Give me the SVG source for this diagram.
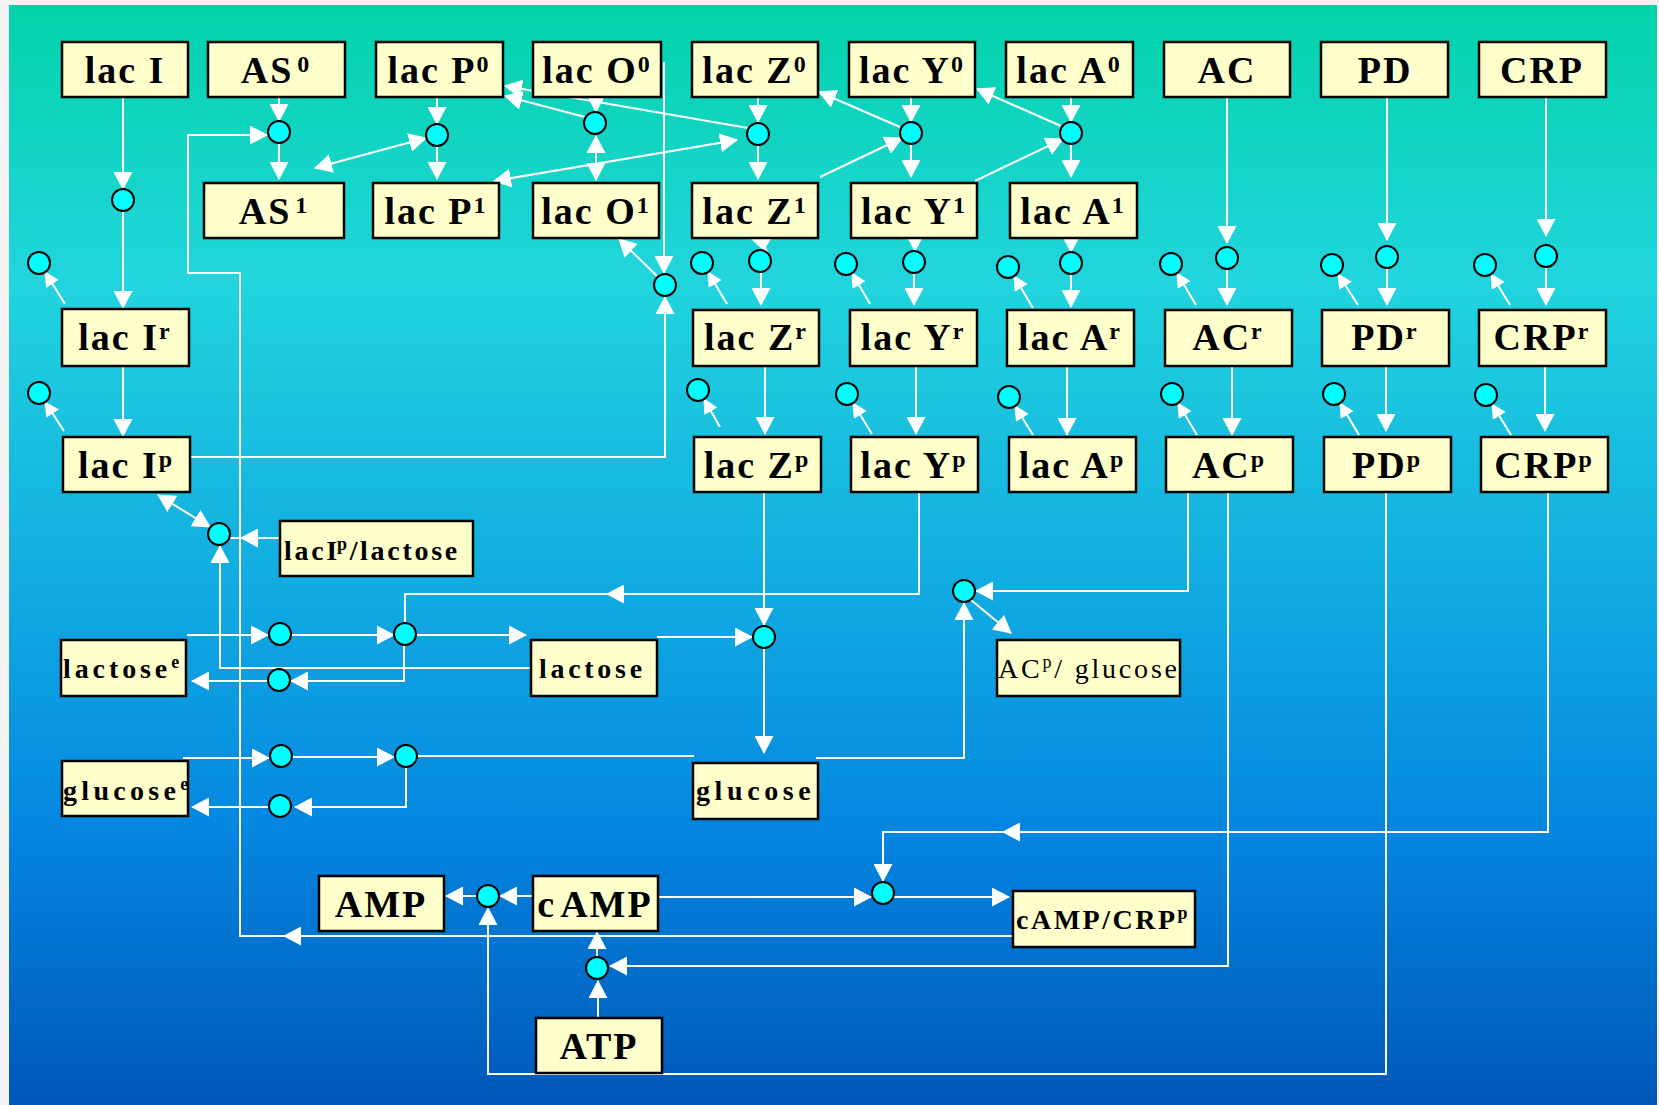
<svg xmlns="http://www.w3.org/2000/svg" width="1659" height="1105" viewBox="0 0 1659 1105">
<defs>
<linearGradient id="bg" x1="0" y1="5" x2="0" y2="1105" gradientUnits="userSpaceOnUse">
<stop offset="0" stop-color="#03D3A9"/>
<stop offset="0.25" stop-color="#21D5DD"/>
<stop offset="0.55" stop-color="#10A8E1"/>
<stop offset="0.75" stop-color="#0486E0"/>
<stop offset="1" stop-color="#0057B8"/>
</linearGradient>
<marker id="ah" viewBox="0 0 18 19" refX="17" refY="9.5" markerWidth="18" markerHeight="19" markerUnits="userSpaceOnUse" orient="auto-start-reverse"><path d="M0,0 L18,9.5 L0,19 z" fill="#fff"/></marker>
<marker id="as" viewBox="0 0 15 15" refX="14" refY="7.5" markerWidth="15" markerHeight="15" markerUnits="userSpaceOnUse" orient="auto-start-reverse"><path d="M0,0 L15,7.5 L0,15 z" fill="#fff"/></marker>
<style>
.box{fill:#FFFFCC;stroke:#000;stroke-width:2.5}
.c{fill:#00FFFF;stroke:#000;stroke-width:2}
.ln{stroke:#fff;stroke-width:2;fill:none}
.a{marker-end:url(#ah)}
.d{marker-start:url(#ah);marker-end:url(#ah)}
.s{marker-end:url(#as)}
.t{font-family:"Liberation Serif","Times New Roman",serif;font-weight:bold;font-size:38px;letter-spacing:2px;fill:#000;text-anchor:middle}
.ts{font-family:"Liberation Serif","Times New Roman",serif;font-weight:bold;font-size:28px;fill:#000}
.tr{font-family:"Liberation Serif","Times New Roman",serif;font-weight:normal;font-size:28px;fill:#000}
.sup{font-size:24px}
.sup2{font-size:18px}
</style>
</defs>
<rect x="0" y="0" width="1659" height="1105" fill="#F2F2F2"/>
<rect x="9" y="5" width="1648" height="1100" fill="url(#bg)"/>

<g id="connectors">
<line class="ln a" x1="123" y1="97" x2="123" y2="189"/>
<line class="ln a" x1="123" y1="211" x2="123" y2="308"/>
<line class="ln a" x1="123" y1="366" x2="123" y2="436"/>
<line class="ln s" x1="65" y1="304" x2="45" y2="272"/>
<line class="ln s" x1="64" y1="431" x2="45" y2="402"/>
<line class="ln a" x1="279" y1="97" x2="279" y2="121"/>
<line class="ln a" x1="279" y1="143" x2="279" y2="179"/>
<line class="ln a" x1="437" y1="97" x2="437" y2="124"/>
<line class="ln a" x1="437" y1="146" x2="437" y2="179"/>
<line class="ln a" x1="596" y1="97" x2="596" y2="112"/>
<line class="ln d" x1="596" y1="136" x2="596" y2="180"/>
<line class="ln a" x1="585" y1="117" x2="505" y2="96"/>
<line class="ln a" x1="748" y1="128" x2="505" y2="86"/>
<line class="ln d" x1="494" y1="181" x2="737" y2="140"/>
<line class="ln d" x1="315" y1="168" x2="426" y2="138"/>
<line class="ln a" x1="758" y1="97" x2="758" y2="122"/>
<line class="ln a" x1="758" y1="145" x2="758" y2="179"/>
<line class="ln a" x1="911" y1="97" x2="911" y2="122"/>
<line class="ln a" x1="911" y1="144" x2="911" y2="177"/>
<line class="ln a" x1="1071" y1="97" x2="1071" y2="122"/>
<line class="ln a" x1="1071" y1="144" x2="1071" y2="177"/>
<line class="ln a" x1="900" y1="127" x2="819" y2="92"/>
<line class="ln a" x1="1061" y1="126" x2="977" y2="89"/>
<line class="ln a" x1="820" y1="177" x2="902" y2="138"/>
<line class="ln a" x1="975" y1="181" x2="1063" y2="139"/>
<polygon points="751,239 771,239 766,247 770,256" fill="#fff"/>
<line class="ln a" x1="915" y1="238" x2="915" y2="251"/>
<line class="ln a" x1="1071" y1="238" x2="1071" y2="252"/>
<line class="ln a" x1="761" y1="272" x2="761" y2="305"/>
<line class="ln a" x1="914" y1="273" x2="914" y2="305"/>
<line class="ln a" x1="1071" y1="274" x2="1071" y2="307"/>
<line class="ln a" x1="765" y1="366" x2="765" y2="434"/>
<line class="ln a" x1="916" y1="366" x2="916" y2="434"/>
<line class="ln a" x1="1067" y1="366" x2="1067" y2="435"/>
<line class="ln s" x1="727" y1="304" x2="708" y2="272"/>
<line class="ln s" x1="870" y1="304" x2="852" y2="273"/>
<line class="ln s" x1="1033" y1="308" x2="1014" y2="276"/>
<line class="ln s" x1="720" y1="427" x2="704" y2="399"/>
<line class="ln s" x1="872" y1="434" x2="853" y2="403"/>
<line class="ln s" x1="1033" y1="435" x2="1015" y2="406"/>
<line class="ln s" x1="1196" y1="305" x2="1177" y2="273"/>
<line class="ln s" x1="1197" y1="435" x2="1178" y2="403"/>
<line class="ln s" x1="1358" y1="305" x2="1338" y2="274"/>
<line class="ln s" x1="1359" y1="435" x2="1340" y2="403"/>
<line class="ln s" x1="1510" y1="305" x2="1491" y2="274"/>
<line class="ln s" x1="1511" y1="435" x2="1492" y2="404"/>
<line class="ln a" x1="1227" y1="97" x2="1227" y2="243"/>
<line class="ln a" x1="1227" y1="269" x2="1227" y2="305"/>
<line class="ln a" x1="1232" y1="366" x2="1232" y2="435"/>
<line class="ln a" x1="1387" y1="97" x2="1387" y2="240"/>
<line class="ln a" x1="1387" y1="268" x2="1387" y2="305"/>
<line class="ln a" x1="1386" y1="366" x2="1386" y2="431"/>
<line class="ln a" x1="1546" y1="97" x2="1546" y2="236"/>
<line class="ln a" x1="1546" y1="267" x2="1546" y2="305"/>
<line class="ln a" x1="1545" y1="366" x2="1545" y2="431"/>
<line class="ln a" x1="664" y1="62" x2="664" y2="273"/>
<polyline class="ln a" points="190,457 665,457 665,297"/>
<line class="ln a" x1="658" y1="277" x2="619" y2="239"/>
<polyline class="ln a" points="1013,936 240,936 240,273 188,273 188,135 267,135"/>
<line class="ln a" x1="310" y1="936" x2="284" y2="936"/>
<line class="ln d" x1="158" y1="495" x2="210" y2="527"/>
<line class="ln" x1="241" y1="538" x2="230" y2="538"/>
<line class="ln a" x1="280" y1="538" x2="241" y2="538"/>
<polyline class="ln a" points="531,668 220,668 220,546"/>
<line class="ln a" x1="187" y1="635" x2="268" y2="635"/>
<line class="ln a" x1="291" y1="635" x2="394" y2="635"/>
<line class="ln a" x1="416" y1="635" x2="526" y2="635"/>
<polyline class="ln a" points="404,645 404,681 291,681"/>
<line class="ln a" x1="268" y1="681" x2="192" y2="681"/>
<polyline class="ln" points="919,492 919,594 405,594 405,623"/>
<line class="ln a" x1="640" y1="594" x2="607" y2="594"/>
<line class="ln a" x1="764" y1="492" x2="764" y2="625"/>
<line class="ln a" x1="657" y1="637" x2="752" y2="637"/>
<line class="ln a" x1="764" y1="648" x2="764" y2="753"/>
<line class="ln a" x1="183" y1="758" x2="269" y2="758"/>
<line class="ln a" x1="292" y1="757" x2="394" y2="757"/>
<line class="ln" x1="417" y1="756" x2="694" y2="756"/>
<polyline class="ln a" points="406,767 406,807 295,807"/>
<line class="ln a" x1="269" y1="807" x2="192" y2="807"/>
<polyline class="ln a" points="816,758 964,758 964,603"/>
<polyline class="ln a" points="1188,492 1188,591 976,591"/>
<line class="ln a" x1="971" y1="600" x2="1011" y2="633"/>
<line class="ln a" x1="533" y1="896" x2="500" y2="896"/>
<line class="ln a" x1="476" y1="896" x2="446" y2="896"/>
<line class="ln a" x1="658" y1="897" x2="871" y2="897"/>
<line class="ln a" x1="894" y1="897" x2="1009" y2="897"/>
<polyline class="ln a" points="1548,492 1548,832 883,832 883,881"/>
<line class="ln a" x1="1030" y1="832" x2="1003" y2="832"/>
<line class="ln a" x1="598" y1="1018" x2="598" y2="981"/>
<line class="ln a" x1="597" y1="957" x2="597" y2="932"/>
<polyline class="ln a" points="1228,492 1228,966 610,966"/>
<polyline class="ln a" points="1386,492 1386,1074 488,1074 488,908"/>
</g>

<g id="nodes">
<g id="lacI"><rect class="box" x="62" y="42" width="126" height="55"/><text class="t" x="125" y="83">lac I</text></g>
<g id="AS0"><rect class="box" x="208" y="42" width="137" height="55"/><text class="t" x="276" y="83">AS<tspan class="sup" dx="4" dy="-11">0</tspan></text></g>
<g id="lacP0"><rect class="box" x="376" y="42" width="127" height="55"/><text class="t" x="439" y="83">lac P<tspan class="sup" dy="-11">0</tspan></text></g>
<g id="lacO0"><rect class="box" x="533" y="42" width="128" height="55"/><text class="t" x="597" y="83">lac O<tspan class="sup" dy="-11">0</tspan></text></g>
<g id="lacZ0"><rect class="box" x="692" y="42" width="126" height="55"/><text class="t" x="755" y="83">lac Z<tspan class="sup" dy="-11">0</tspan></text></g>
<g id="lacY0"><rect class="box" x="849" y="42" width="126" height="55"/><text class="t" x="912" y="83">lac Y<tspan class="sup" dy="-11">0</tspan></text></g>
<g id="lacA0"><rect class="box" x="1006" y="42" width="127" height="55"/><text class="t" x="1069" y="83">lac A<tspan class="sup" dy="-11">0</tspan></text></g>
<g id="AC"><rect class="box" x="1164" y="42" width="126" height="55"/><text class="t" x="1227" y="83">AC</text></g>
<g id="PD"><rect class="box" x="1321" y="42" width="127" height="55"/><text class="t" x="1385" y="83">PD</text></g>
<g id="CRP"><rect class="box" x="1479" y="42" width="127" height="55"/><text class="t" x="1542" y="83">CRP</text></g>

<g id="AS1"><rect class="box" x="204" y="183" width="140" height="55"/><text class="t" x="274" y="224">AS<tspan class="sup" dx="4" dy="-11">1</tspan></text></g>
<g id="lacP1"><rect class="box" x="373" y="183" width="126" height="55"/><text class="t" x="436" y="224">lac P<tspan class="sup" dy="-11">1</tspan></text></g>
<g id="lacO1"><rect class="box" x="533" y="183" width="126" height="55"/><text class="t" x="596" y="224">lac O<tspan class="sup" dy="-11">1</tspan></text></g>
<g id="lacZ1"><rect class="box" x="692" y="183" width="126" height="55"/><text class="t" x="755" y="224">lac Z<tspan class="sup" dy="-11">1</tspan></text></g>
<g id="lacY1"><rect class="box" x="851" y="183" width="126" height="55"/><text class="t" x="914" y="224">lac Y<tspan class="sup" dy="-11">1</tspan></text></g>
<g id="lacA1"><rect class="box" x="1010" y="183" width="127" height="55"/><text class="t" x="1073" y="224">lac A<tspan class="sup" dy="-11">1</tspan></text></g>

<g id="lacIr"><rect class="box" x="62" y="309" width="127" height="57"/><text class="t" x="125" y="350">lac I<tspan class="sup" dy="-11">r</tspan></text></g>
<g id="lacZr"><rect class="box" x="693" y="310" width="126" height="56"/><text class="t" x="756" y="350">lac Z<tspan class="sup" dy="-11">r</tspan></text></g>
<g id="lacYr"><rect class="box" x="850" y="310" width="127" height="56"/><text class="t" x="913" y="350">lac Y<tspan class="sup" dy="-11">r</tspan></text></g>
<g id="lacAr"><rect class="box" x="1007" y="310" width="127" height="56"/><text class="t" x="1070" y="350">lac A<tspan class="sup" dy="-11">r</tspan></text></g>
<g id="ACr"><rect class="box" x="1165" y="310" width="127" height="56"/><text class="t" x="1228" y="350">AC<tspan class="sup" dy="-11">r</tspan></text></g>
<g id="PDr"><rect class="box" x="1322" y="310" width="127" height="56"/><text class="t" x="1385" y="350">PD<tspan class="sup" dy="-11">r</tspan></text></g>
<g id="CRPr"><rect class="box" x="1479" y="310" width="127" height="56"/><text class="t" x="1542" y="350">CRP<tspan class="sup" dy="-11">r</tspan></text></g>

<g id="lacIp"><rect class="box" x="63" y="437" width="127" height="55"/><text class="t" x="126" y="478">lac I<tspan class="sup" dy="-11">p</tspan></text></g>
<g id="lacZp"><rect class="box" x="694" y="437" width="127" height="55"/><text class="t" x="757" y="478">lac Z<tspan class="sup" dy="-11">p</tspan></text></g>
<g id="lacYp"><rect class="box" x="851" y="437" width="127" height="55"/><text class="t" x="914" y="478">lac Y<tspan class="sup" dy="-11">p</tspan></text></g>
<g id="lacAp"><rect class="box" x="1009" y="437" width="127" height="55"/><text class="t" x="1072" y="478">lac A<tspan class="sup" dy="-11">p</tspan></text></g>
<g id="ACp"><rect class="box" x="1166" y="437" width="127" height="55"/><text class="t" x="1229" y="478">AC<tspan class="sup" dy="-11">p</tspan></text></g>
<g id="PDp"><rect class="box" x="1324" y="437" width="127" height="55"/><text class="t" x="1387" y="478">PD<tspan class="sup" dy="-11">p</tspan></text></g>
<g id="CRPp"><rect class="box" x="1481" y="437" width="127" height="55"/><text class="t" x="1544" y="478">CRP<tspan class="sup" dy="-11">p</tspan></text></g>

<g id="lacIp-lactose"><rect class="box" x="280" y="521" width="193" height="55"/><text class="ts" x="284" y="560" letter-spacing="2.7">lacI<tspan class="sup2" dx="-3" dy="-10">p</tspan><tspan dy="10">/lactose</tspan></text></g>
<g id="lactose-e"><rect class="box" x="61" y="640" width="125" height="56"/><text class="ts" x="63" y="678" letter-spacing="3.9">lactose<tspan class="sup2" dy="-10">e</tspan></text></g>
<g id="glucose-e"><rect class="box" x="62" y="761" width="126" height="55"/><text class="ts" x="63" y="800" letter-spacing="4.3">glucose<tspan class="sup2" dy="-10">e</tspan></text></g>
<g id="lactose"><rect class="box" x="531" y="640" width="126" height="56"/><text class="ts" x="539" y="678" letter-spacing="3.7">lactose</text></g>
<g id="glucose"><rect class="box" x="693" y="763" width="125" height="56"/><text class="ts" x="696" y="800" letter-spacing="4.6">glucose</text></g>
<g id="ACp-glucose"><rect class="box" x="997" y="640" width="183" height="56"/><text class="tr" x="998" y="678" letter-spacing="2.8">AC<tspan class="sup2" dy="-10">p</tspan><tspan dy="10">/ glucose</tspan></text></g>
<g id="AMP"><rect class="box" x="319" y="876" width="125" height="55"/><text class="t" x="381" y="917">AMP</text></g>
<g id="cAMP"><rect class="box" x="533" y="876" width="125" height="55"/><text class="t" x="595" y="917">c<tspan dx="4">AMP</tspan></text></g>
<g id="cAMP-CRPp"><rect class="box" x="1013" y="891" width="182" height="56"/><text class="ts" x="1016" y="929" letter-spacing="2.5">cAMP/CRP<tspan class="sup2" dy="-10">p</tspan></text></g>
<g id="ATP"><rect class="box" x="536" y="1018" width="126" height="55"/><text class="t" x="599" y="1059">ATP</text></g>

<g id="p-I"><circle class="c" cx="123" cy="200" r="11"/></g>
<g id="p-AS"><circle class="c" cx="279" cy="132" r="11"/></g>
<g id="p-P"><circle class="c" cx="437" cy="135" r="11"/></g>
<g id="p-O"><circle class="c" cx="595" cy="123" r="11"/></g>
<g id="p-Z"><circle class="c" cx="758" cy="134" r="11"/></g>
<g id="p-Y"><circle class="c" cx="911" cy="133" r="11"/></g>
<g id="p-A"><circle class="c" cx="1071" cy="133" r="11"/></g>
<g id="p-O1"><circle class="c" cx="665" cy="285" r="11"/></g>
<g id="d-Ir"><circle class="c" cx="39" cy="263" r="11"/></g>
<g id="d-Ip"><circle class="c" cx="39" cy="393" r="11"/></g>
<g id="d-Zr"><circle class="c" cx="702" cy="263" r="11"/></g>
<g id="d-Yr"><circle class="c" cx="846" cy="264" r="11"/></g>
<g id="d-Ar"><circle class="c" cx="1008" cy="267" r="11"/></g>
<g id="d-ACr"><circle class="c" cx="1171" cy="264" r="11"/></g>
<g id="d-PDr"><circle class="c" cx="1332" cy="265" r="11"/></g>
<g id="d-CRPr"><circle class="c" cx="1485" cy="265" r="11"/></g>
<g id="d-Zp"><circle class="c" cx="698" cy="390" r="11"/></g>
<g id="d-Yp"><circle class="c" cx="847" cy="394" r="11"/></g>
<g id="d-Ap"><circle class="c" cx="1009" cy="397" r="11"/></g>
<g id="d-ACp"><circle class="c" cx="1172" cy="394" r="11"/></g>
<g id="d-PDp"><circle class="c" cx="1334" cy="394" r="11"/></g>
<g id="d-CRPp"><circle class="c" cx="1486" cy="395" r="11"/></g>
<g id="t-Z"><circle class="c" cx="760" cy="261" r="11"/></g>
<g id="t-Y"><circle class="c" cx="914" cy="262" r="11"/></g>
<g id="t-A"><circle class="c" cx="1071" cy="263" r="11"/></g>
<g id="t-AC"><circle class="c" cx="1227" cy="258" r="11"/></g>
<g id="t-PD"><circle class="c" cx="1387" cy="257" r="11"/></g>
<g id="t-CRP"><circle class="c" cx="1546" cy="256" r="11"/></g>
<g id="p-IL"><circle class="c" cx="219" cy="534" r="11"/></g>
<g id="p-L1"><circle class="c" cx="280" cy="634" r="11"/></g>
<g id="p-L2"><circle class="c" cx="405" cy="634" r="11"/></g>
<g id="p-L3"><circle class="c" cx="279" cy="680" r="11"/></g>
<g id="p-G1"><circle class="c" cx="281" cy="756" r="11"/></g>
<g id="p-G2"><circle class="c" cx="406" cy="756" r="11"/></g>
<g id="p-G3"><circle class="c" cx="280" cy="806" r="11"/></g>
<g id="p-Zh"><circle class="c" cx="764" cy="637" r="11"/></g>
<g id="p-ACg"><circle class="c" cx="964" cy="591" r="11"/></g>
<g id="p-AMP"><circle class="c" cx="488" cy="896" r="11"/></g>
<g id="p-CRP"><circle class="c" cx="883" cy="893" r="11"/></g>
<g id="p-ATP"><circle class="c" cx="597" cy="968" r="11"/></g>
</g>
</svg>
